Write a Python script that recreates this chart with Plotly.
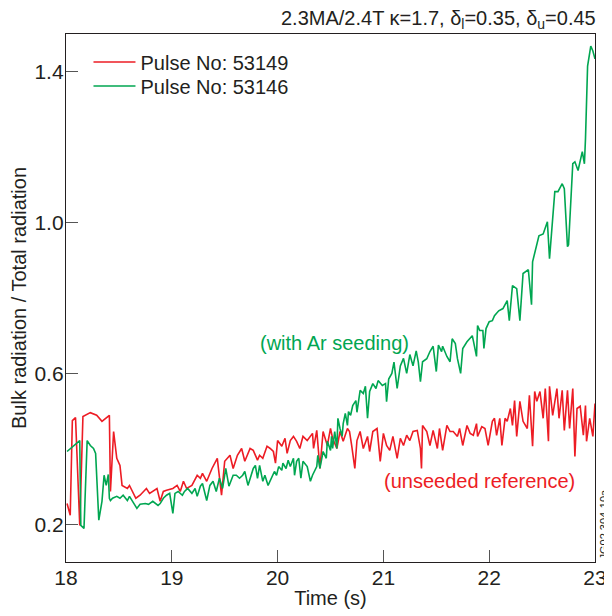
import plotly.graph_objects as go

# Pulse 53149 (unseeded reference) - red
t_53149 = [18.01, 18.04, 18.06, 18.09, 18.13, 18.16, 18.23, 18.29, 18.34, 18.39, 18.41, 18.42, 18.45, 18.48,
           18.51, 18.53, 18.58, 18.60, 18.63, 18.66, 18.70, 18.76, 18.79, 18.86, 18.89, 18.92, 18.95, 19.01,
           19.05, 19.08, 19.11, 19.14, 19.19, 19.24, 19.27, 19.29, 19.33, 19.38, 19.43, 19.47, 19.50, 19.55,
           19.58, 19.62, 19.66, 19.69, 19.74, 19.77, 19.81, 19.83, 19.86, 19.90, 19.93, 19.96, 19.98, 20.00,
           20.04, 20.07, 20.09, 20.12, 20.15, 20.18, 20.21, 20.24, 20.28, 20.33, 20.34, 20.37, 20.40, 20.43,
           20.47, 20.50, 20.52, 20.56, 20.59, 20.62, 20.66, 20.68, 20.70, 20.73, 20.75, 20.78, 20.81, 20.85,
           20.87, 20.90, 20.94, 20.97, 21.00, 21.03, 21.06, 21.09, 21.13, 21.16, 21.19, 21.22, 21.25, 21.28,
           21.32, 21.35, 21.36, 21.37, 21.41, 21.44, 21.47, 21.51, 21.53, 21.56, 21.60, 21.63, 21.66, 21.70,
           21.72, 21.75, 21.79, 21.82, 21.85, 21.88, 21.89, 21.93, 21.96, 21.99, 22.03, 22.05, 22.07, 22.10,
           22.12, 22.15, 22.17, 22.20, 22.22, 22.24, 22.26, 22.29, 22.32, 22.36, 22.38, 22.41, 22.43, 22.45,
           22.48, 22.51, 22.53, 22.56, 22.57, 22.60, 22.64, 22.66, 22.69, 22.71, 22.74, 22.76, 22.79, 22.81,
           22.83, 22.86, 22.89, 22.91, 22.92, 22.95, 22.98, 23.00]
v_53149 = [0.255, 0.224, 0.475, 0.483, 0.197, 0.486, 0.496, 0.489, 0.473, 0.486, 0.489, 0.287, 0.446, 0.375,
           0.356, 0.303, 0.295, 0.303, 0.287, 0.269, 0.277, 0.295, 0.282, 0.295, 0.261, 0.287, 0.290, 0.295,
           0.303, 0.287, 0.314, 0.295, 0.303, 0.330, 0.322, 0.335, 0.314, 0.348, 0.375, 0.277, 0.367, 0.383,
           0.348, 0.383, 0.401, 0.367, 0.401, 0.396, 0.370, 0.383, 0.375, 0.407, 0.401, 0.393, 0.362, 0.422,
           0.407, 0.428, 0.388, 0.422, 0.433, 0.420, 0.401, 0.433, 0.422, 0.441, 0.401, 0.449, 0.348, 0.446,
           0.409, 0.454, 0.428, 0.401, 0.446, 0.420, 0.454, 0.446, 0.409, 0.348, 0.422, 0.446, 0.401, 0.433,
           0.393, 0.446, 0.454, 0.367, 0.441, 0.409, 0.396, 0.433, 0.375, 0.428, 0.409, 0.436, 0.422, 0.446,
           0.449, 0.401, 0.348, 0.462, 0.446, 0.409, 0.449, 0.401, 0.454, 0.396, 0.462, 0.446, 0.446, 0.433,
           0.454, 0.409, 0.462, 0.441, 0.436, 0.467, 0.433, 0.459, 0.454, 0.409, 0.473, 0.481, 0.436, 0.481,
           0.409, 0.481, 0.473, 0.507, 0.462, 0.528, 0.433, 0.526, 0.473, 0.454, 0.542, 0.407, 0.552, 0.526,
           0.552, 0.481, 0.560, 0.420, 0.566, 0.489, 0.560, 0.481, 0.555, 0.449, 0.555, 0.454, 0.560, 0.380,
           0.507, 0.513, 0.436, 0.515, 0.420, 0.481, 0.433, 0.520]

# Pulse 53146 (with Ar seeding) - green
t_53146 = [18.01, 18.07, 18.10, 18.13, 18.14, 18.17, 18.20, 18.23, 18.26, 18.28, 18.31, 18.34, 18.36, 18.38,
           18.40, 18.41, 18.42, 18.44, 18.48, 18.51, 18.54, 18.58, 18.60, 18.63, 18.67, 18.70, 18.75, 18.78,
           18.82, 18.87, 18.89, 18.92, 18.95, 18.98, 19.01, 19.03, 19.06, 19.10, 19.12, 19.15, 19.19, 19.22,
           19.24, 19.27, 19.29, 19.33, 19.36, 19.39, 19.42, 19.45, 19.48, 19.51, 19.54, 19.58, 19.61, 19.64,
           19.67, 19.69, 19.72, 19.77, 19.79, 19.81, 19.83, 19.86, 19.88, 19.91, 19.95, 19.97, 19.99, 20.01,
           20.04, 20.05, 20.08, 20.10, 20.12, 20.15, 20.16, 20.18, 20.20, 20.22, 20.24, 20.28, 20.31, 20.33,
           20.37, 20.38, 20.40, 20.43, 20.46, 20.47, 20.50, 20.51, 20.52, 20.54, 20.56, 20.57, 20.59, 20.61,
           20.62, 20.64, 20.66, 20.67, 20.69, 20.71, 20.74, 20.75, 20.78, 20.81, 20.83, 20.85, 20.87, 20.90,
           20.93, 20.95, 20.99, 21.02, 21.03, 21.05, 21.08, 21.10, 21.13, 21.16, 21.19, 21.22, 21.25, 21.28,
           21.31, 21.33, 21.35, 21.37, 21.41, 21.44, 21.47, 21.50, 21.52, 21.55, 21.56, 21.60, 21.63, 21.65,
           21.68, 21.70, 21.73, 21.75, 21.79, 21.84, 21.85, 21.88, 21.89, 21.91, 21.94, 21.95, 21.97, 22.00,
           22.03, 22.05, 22.09, 22.13, 22.17, 22.19, 22.22, 22.26, 22.29, 22.32, 22.37, 22.40, 22.41, 22.44,
           22.47, 22.51, 22.55, 22.57, 22.60, 22.62, 22.65, 22.69, 22.71, 22.74, 22.75, 22.79, 22.81, 22.84,
           22.88, 22.90, 22.91, 22.93, 22.96, 22.98, 23.00]
v_53146 = [0.393, 0.407, 0.415, 0.422, 0.197, 0.189, 0.422, 0.409, 0.401, 0.388, 0.211, 0.261, 0.330, 0.303,
           0.332, 0.269, 0.263, 0.269, 0.274, 0.269, 0.277, 0.263, 0.274, 0.261, 0.242, 0.253, 0.255, 0.253,
           0.261, 0.250, 0.255, 0.269, 0.277, 0.282, 0.229, 0.282, 0.287, 0.277, 0.287, 0.295, 0.282, 0.295,
           0.274, 0.301, 0.308, 0.263, 0.303, 0.314, 0.287, 0.322, 0.295, 0.348, 0.301, 0.330, 0.330, 0.322,
           0.330, 0.340, 0.303, 0.348, 0.356, 0.322, 0.356, 0.314, 0.330, 0.303, 0.327, 0.340, 0.330, 0.353,
           0.343, 0.362, 0.348, 0.370, 0.353, 0.375, 0.330, 0.367, 0.375, 0.322, 0.367, 0.353, 0.314, 0.330,
           0.353, 0.383, 0.348, 0.393, 0.375, 0.420, 0.396, 0.433, 0.401, 0.446, 0.401, 0.481, 0.454, 0.433,
           0.467, 0.494, 0.462, 0.499, 0.489, 0.515, 0.528, 0.497, 0.555, 0.547, 0.566, 0.481, 0.552, 0.573,
           0.560, 0.581, 0.568, 0.573, 0.525, 0.585, 0.600, 0.630, 0.560, 0.620, 0.640, 0.600, 0.650, 0.620,
           0.660, 0.630, 0.578, 0.631, 0.639, 0.658, 0.672, 0.605, 0.675, 0.658, 0.672, 0.645, 0.631, 0.692,
           0.679, 0.639, 0.600, 0.666, 0.684, 0.700, 0.687, 0.645, 0.727, 0.714, 0.714, 0.666, 0.719, 0.737,
           0.740, 0.753, 0.766, 0.772, 0.793, 0.740, 0.833, 0.825, 0.740, 0.865, 0.875, 0.782, 0.896, 0.933,
           0.965, 0.970, 1.002, 0.904, 1.028, 1.082, 1.082, 1.103, 1.090, 0.936, 0.941, 1.156, 1.161, 1.138,
           1.188, 1.156, 1.222, 1.415, 1.468, 1.455, 1.434]

x_ticks = [18, 19, 20, 21, 22, 23]
y_ticks = [0.2, 0.6, 1.0, 1.4]
y_ticktext = ["0.2", "0.6", "1.0", "1.4"]

RED = "#ed1c24"
GREEN = "#00a651"
INK = "#231f20"
FONT = "Liberation Sans, Arial, sans-serif"

fig = go.Figure()
fig.add_trace(go.Scatter(x=t_53149, y=v_53149, mode="lines", name="Pulse No: 53149",
                         line=dict(color=RED, width=1.6), legend="legend"))
fig.add_trace(go.Scatter(x=t_53146, y=v_53146, mode="lines", name="Pulse No: 53146",
                         line=dict(color=GREEN, width=1.6), legend="legend2"))

legend_common = dict(xanchor="left", yanchor="middle", bgcolor="rgba(0,0,0,0)",
                     font=dict(size=20), itemwidth=42)

fig.update_layout(
    width=612, height=616,
    margin=dict(l=58, r=25, t=26, b=62, autoexpand=False),
    paper_bgcolor="white", plot_bgcolor="white",
    font=dict(family=FONT, size=21, color=INK),
    showlegend=True,
    legend=dict(x=0.0425, y=0.947, **legend_common),
    legend2=dict(x=0.0425, y=0.9015, **legend_common),
    xaxis=dict(range=[18, 23], tickvals=x_ticks, ticks="inside", ticklen=12,
               tickcolor="#555", showline=True, linecolor=INK, linewidth=1.3,
               mirror=True, showgrid=False, zeroline=False, automargin=False,
               tickfont=dict(size=21), ticklabelstandoff=-3,
               title=dict(text="Time (s)", font=dict(size=20), standoff=2)),
    yaxis=dict(range=[0.1, 1.5], tickvals=y_ticks, ticktext=y_ticktext,
               ticks="inside", ticklen=12, tickcolor="#555", showline=True,
               linecolor=INK, linewidth=1.3, mirror=True, showgrid=False,
               zeroline=False, automargin=False, tickfont=dict(size=21),
               ticklabelstandoff=-3,
               title=dict(text="Bulk radiation / Total radiation", font=dict(size=20), standoff=4)),
    annotations=[
        dict(text="2.3MA/2.4T \u03ba=1.7, \u03b4<sub>l</sub>=0.35, \u03b4<sub>u</sub>=0.45",
             xref="paper", yref="paper", x=1.0, y=1.0, xanchor="right", yanchor="bottom",
             xshift=3, yshift=0, showarrow=False, font=dict(size=20, color=INK)),
        dict(text="(with Ar seeding)", x=20.54, y=0.682, xref="x", yref="y",
             showarrow=False, font=dict(size=20, color=GREEN)),
        dict(text="(unseeded reference)", x=21.91, y=0.314, xref="x", yref="y",
             showarrow=False, font=dict(size=20, color=RED)),
        dict(text="JG02.304-10a", xref="paper", yref="paper", x=1.0, y=0.0,
             xanchor="left", yanchor="bottom", xshift=0, textangle=-90,
             showarrow=False, font=dict(size=11, color=INK)),
    ],
)

fig.write_html("out.html")
